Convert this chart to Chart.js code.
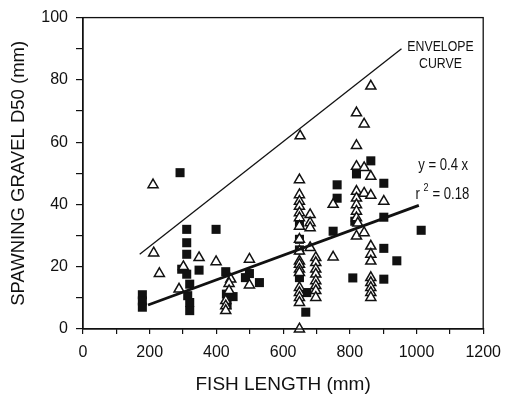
<!DOCTYPE html>
<html>
<head>
<meta charset="utf-8">
<script src="https://cdn.jsdelivr.net/npm/chart.js@4/dist/chart.umd.min.js"></script>
<style>
  html, body { margin: 0; padding: 0; background: #fff; }
</style>
</head>
<body>
<canvas id="chart" width="510" height="407"></canvas>
<script>
// filled squares
const squareX = [178, 178, 178, 291, 311, 311, 311, 296, 311, 320, 314, 320, 320, 399, 348, 428,
    430, 432, 450, 499, 487, 529, 649, 649, 649, 649, 671, 668, 762, 762, 750, 809,
    820, 815, 863, 902, 902, 902, 902, 941, 1014];
const squareY = [11, 9, 7, 50.2, 32, 27.7, 24, 19.2, 17.6, 14.4, 10.7, 8.5, 5.9, 32, 18.9, 18.4,
    11.2, 7.8, 10.4, 17.8, 16.5, 14.9, 34, 28.8, 25.4, 16.5, 11.7, 5.4, 46.3, 42, 31.4, 16.4,
    49.8, 34.6, 54, 46.8, 35.9, 25.9, 16, 21.9, 31.7];

// open triangles
const triX = [210, 212, 229, 301, 288, 348, 399,
    443, 438, 438, 428, 428, 428, 499, 499,
    651, 649, 649, 649, 649, 649, 649, 649, 649, 649, 649, 649, 649, 649, 649, 649, 649, 649, 649,
    681, 681, 681, 681,
    698, 698, 698, 698, 698, 698, 698, 698,
    750, 750,
    820, 820, 820, 820, 820, 820, 820, 820, 820, 824,
    843, 843, 843, 843,
    863, 863, 863, 863, 863, 863, 863, 863, 863, 863, 863,
    902];
const triY = [46.3, 24.4, 17.8, 20, 12.8, 22.9, 21.6,
    16, 14.6, 12.3, 9.1, 7.4, 5.9, 22.4, 14.1,
    62, 47.9, 43.1, 41, 39.4, 37.3, 35.7, 33, 28.8, 25, 21.8, 20.8, 19.2, 18.1, 13.3, 11.7, 10.1, 8.5, 0,
    36.7, 34.1, 32.5, 26.1,
    22.9, 21.3, 19.2, 17.6, 15.5, 13.9, 12.3, 10.1,
    40, 23.1,
    69.4, 58.9, 52.2, 44.2, 42, 39.9, 37.8, 35.7, 29.8, 34,
    65.8, 51.8, 43.6, 30.9,
    78, 49, 42.9, 26.6, 24, 21.8, 16.5, 14.9, 13.3, 11.7, 10.1,
    41];

// line end points
const envelopeX = [170, 955];
const envelopeY = [24, 90];
const fitX = [195, 1007];
const fitY = [7.7, 39.7];

const toPoints = (xs, ys) => xs.map((x, i) => ({ x, y: ys[i] }));

const INK = '#111';
const FONT = '"Liberation Sans", Arial, sans-serif';

const annotations = {
    id: 'annotations',
    afterDatasetsDraw(chart) {
        const { ctx, scales: { x, y }, chartArea } = chart;
        ctx.save();
        ctx.strokeStyle = INK;
        ctx.lineWidth = 1.3;
        ctx.strokeRect(chartArea.left, chartArea.top, chartArea.right - chartArea.left, chartArea.bottom - chartArea.top);

        // the original uses a condensed face, so squeeze the text a little
        const narrow = (text, px, py, size, align) => {
            ctx.save();
            ctx.translate(px, py);
            ctx.scale(0.82, 1);
            ctx.font = size + 'px ' + FONT;
            ctx.textAlign = align;
            ctx.textBaseline = 'middle';
            ctx.fillStyle = INK;
            ctx.fillText(text, 0, 0);
            ctx.restore();
        };
        narrow('ENVELOPE', x.getPixelForValue(1072), y.getPixelForValue(90.7), 15, 'center');
        narrow('CURVE', x.getPixelForValue(1072), y.getPixelForValue(85.3), 15, 'center');
        narrow('y = 0.4 x', x.getPixelForValue(1080), y.getPixelForValue(52.5), 16, 'center');
        const rx = x.getPixelForValue(997);
        const ry = y.getPixelForValue(43.3);
        narrow('r', rx, ry, 16, 'left');
        narrow('2', rx + 8, ry - 6, 11, 'left');
        narrow('= 0.18', rx + 17, ry, 16, 'left');
        ctx.restore();
    }
};

new Chart(document.getElementById('chart'), {
    type: 'scatter',
    data: {
        datasets: [
            {
                label: 'fit',
                data: toPoints(fitX, fitY),
                showLine: true,
                borderColor: INK,
                borderWidth: 2.8,
                pointRadius: 0,
                order: 0
            },
            {
                label: 'envelope',
                data: toPoints(envelopeX, envelopeY),
                showLine: true,
                borderColor: INK,
                borderWidth: 1.3,
                pointRadius: 0,
                order: 1
            },
            {
                label: 'triangles',
                data: toPoints(triX, triY),
                pointStyle: 'triangle',
                pointRadius: 5.8,
                backgroundColor: '#fff',
                borderColor: INK,
                borderWidth: 1.5,
                clip: false,
                order: 2
            },
            {
                label: 'squares',
                data: toPoints(squareX, squareY),
                pointStyle: 'rect',
                pointRadius: 6.4,
                backgroundColor: '#111',
                borderColor: '#111',
                borderWidth: 0,
                clip: false,
                order: 3
            }
        ]
    },
    options: {
        responsive: false,
        animation: false,
        layout: { padding: { top: 15, right: 19, left: 0, bottom: 0 } },
        plugins: {
            legend: { display: false },
            tooltip: { enabled: false }
        },
        scales: {
            x: {
                type: 'linear',
                min: 0,
                max: 1200,
                afterFit: (s) => { s.height = 78; },
                ticks: {
                    stepSize: 100,
                    autoSkip: false,
                    maxRotation: 0,
                    padding: 9,
                    color: INK,
                    font: { family: FONT, size: 16 },
                    callback: (v) => (v % 200 === 0 ? v : '')
                },
                grid: { drawOnChartArea: false, tickLength: 5, color: INK, lineWidth: 1.2 },
                border: { color: INK, width: 1.3 },
                title: {
                    display: true,
                    text: 'FISH LENGTH (mm)',
                    color: INK,
                    font: { family: FONT, size: 19 },
                    padding: { top: 0, bottom: 11 }
                }
            },
            y: {
                min: 0,
                max: 100,
                afterFit: (s) => { s.width = 83; },
                ticks: {
                    stepSize: 10,
                    autoSkip: false,
                    padding: 8,
                    color: INK,
                    font: { family: FONT, size: 16 },
                    callback: (v) => (v % 20 === 0 ? v : '')
                },
                grid: { drawOnChartArea: false, tickLength: 7, color: INK, lineWidth: 1.2 },
                border: { color: INK, width: 1.3 },
                title: {
                    display: true,
                    text: 'SPAWNING GRAVEL D50 (mm)',
                    color: INK,
                    font: { family: FONT, size: 18.5 },
                    padding: { top: 8, bottom: 0 }
                }
            }
        }
    },
    plugins: [annotations]
});
</script>
</body>
</html>
